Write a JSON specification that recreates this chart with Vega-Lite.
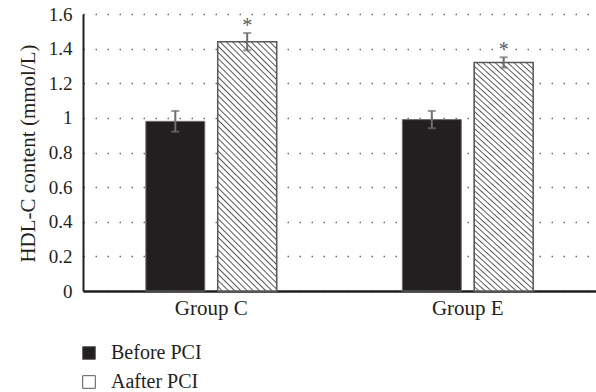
{
 "$schema": "https://vega.github.io/schema/vega-lite/v6.json",
 "width": 513, "height": 277,
 "autosize": "none",
 "padding": {"left": 83, "top": 14, "right": 0, "bottom": 101},
 "background": "white",
 "config": {
  "view": {"stroke": null},
  "font": "Liberation Serif",
  "axis": {"labelFont": "Liberation Serif", "titleFont": "Liberation Serif"},
  "axisY": {"labelFontSize": 19, "labelFont": "Liberation Serif", "labelColor": "#231f20", "labelPadding": 11, "ticks": false, "tickSize": 0, "domainColor": "#231f20", "domainWidth": 2, "gridColor": "#6d6e71", "gridDash": [1.5, 10.5], "gridWidth": 1.5, "titleFontSize": 21, "titleFontWeight": "normal", "titleColor": "#231f20"},
  "axisX": {"labelFontSize": 21, "labelFont": "Liberation Serif", "labelColor": "#231f20", "labelAngle": 0, "ticks": false, "tickSize": 0, "labelPadding": 23, "labelBaseline": "alphabetic", "domainColor": "#231f20", "domainWidth": 2.5, "grid": false},
  "legend": {"labelFontSize": 20, "labelFont": "Liberation Serif", "labelColor": "#231f20"}
 },
 "data": {"values": [
  {"group": "Group C", "phase": "Before PCI", "mean": 0.98, "lower": 0.92, "upper": 1.04, "sig": ""},
  {"group": "Group C", "phase": "Aafter PCI", "mean": 1.44, "lower": 1.39, "upper": 1.49, "sig": "*"},
  {"group": "Group E", "phase": "Before PCI", "mean": 0.99, "lower": 0.94, "upper": 1.04, "sig": ""},
  {"group": "Group E", "phase": "Aafter PCI", "mean": 1.32, "lower": 1.29, "upper": 1.35, "sig": "*"}
 ]},
 "encoding": {
  "x": {"field": "group", "type": "nominal", "scale": {"paddingInner": 0.49, "paddingOuter": 0.245},
   "axis": {"title": null}},
  "xOffset": {"field": "phase", "type": "nominal", "scale": {"domain": ["Before PCI", "Aafter PCI"], "paddingInner": 0.18, "paddingOuter": 0}}
 },
 "layer": [
  {"mark": {"type": "bar", "stroke": "#6d6e71", "strokeWidth": 1},
   "encoding": {
    "y": {"field": "mean", "type": "quantitative", "title": "HDL-C content (mmol/L)", "scale": {"domain": [0, 1.6], "nice": false},
     "axis": {"values": [0, 0.2, 0.4, 0.6, 0.8, 1, 1.2, 1.4, 1.6], "format": ".1~f", "labelOverlap": false, "labelFontSize": 19, "titleX": -49, "titleY": 139, "titleBaseline": "alphabetic"}},
    "color": {"field": "phase", "type": "nominal", "scale": {"domain": ["Before PCI", "Aafter PCI"], "range": ["#231f20", "#ffffff"]},
     "legend": {"title": null, "orient": "none", "legendX": -4, "legendY": 329, "direction": "vertical", "labelFontSize": 20, "symbolType": "square", "symbolSize": 160, "symbolStrokeColor": "#58595b", "symbolStrokeWidth": 1, "rowPadding": 9, "labelOffset": 12, "padding": 0}}
   }},
  {"transform": [{"filter": "datum.phase === 'Aafter PCI'"}],
   "mark": {"type": "bar", "stroke": "#58595b", "strokeWidth": 1.5,
    "fill": {"gradient": "linear", "x1": 0, "y1": 1, "x2": 0.275, "y2": -0.172, "stops": [
     {"offset": 0, "color": "#fff"}, {"offset": 0.011, "color": "#fff"}, {"offset": 0.0155, "color": "#555"},
     {"offset": 0.02, "color": "#fff"}, {"offset": 0.031, "color": "#fff"}, {"offset": 0.0355, "color": "#555"},
     {"offset": 0.04, "color": "#fff"}, {"offset": 0.051, "color": "#fff"}, {"offset": 0.0555, "color": "#555"},
     {"offset": 0.06, "color": "#fff"}, {"offset": 0.071, "color": "#fff"}, {"offset": 0.0755, "color": "#555"},
     {"offset": 0.08, "color": "#fff"}, {"offset": 0.091, "color": "#fff"}, {"offset": 0.0955, "color": "#555"},
     {"offset": 0.1, "color": "#fff"}, {"offset": 0.111, "color": "#fff"}, {"offset": 0.1155, "color": "#555"},
     {"offset": 0.12, "color": "#fff"}, {"offset": 0.131, "color": "#fff"}, {"offset": 0.1355, "color": "#555"},
     {"offset": 0.14, "color": "#fff"}, {"offset": 0.151, "color": "#fff"}, {"offset": 0.1555, "color": "#555"},
     {"offset": 0.16, "color": "#fff"}, {"offset": 0.171, "color": "#fff"}, {"offset": 0.1755, "color": "#555"},
     {"offset": 0.18, "color": "#fff"}, {"offset": 0.191, "color": "#fff"}, {"offset": 0.1955, "color": "#555"},
     {"offset": 0.2, "color": "#fff"}, {"offset": 0.211, "color": "#fff"}, {"offset": 0.2155, "color": "#555"},
     {"offset": 0.22, "color": "#fff"}, {"offset": 0.231, "color": "#fff"}, {"offset": 0.2355, "color": "#555"},
     {"offset": 0.24, "color": "#fff"}, {"offset": 0.251, "color": "#fff"}, {"offset": 0.2555, "color": "#555"},
     {"offset": 0.26, "color": "#fff"}, {"offset": 0.271, "color": "#fff"}, {"offset": 0.2755, "color": "#555"},
     {"offset": 0.28, "color": "#fff"}, {"offset": 0.291, "color": "#fff"}, {"offset": 0.2955, "color": "#555"},
     {"offset": 0.3, "color": "#fff"}, {"offset": 0.311, "color": "#fff"}, {"offset": 0.3155, "color": "#555"},
     {"offset": 0.32, "color": "#fff"}, {"offset": 0.331, "color": "#fff"}, {"offset": 0.3355, "color": "#555"},
     {"offset": 0.34, "color": "#fff"}, {"offset": 0.351, "color": "#fff"}, {"offset": 0.3555, "color": "#555"},
     {"offset": 0.36, "color": "#fff"}, {"offset": 0.371, "color": "#fff"}, {"offset": 0.3755, "color": "#555"},
     {"offset": 0.38, "color": "#fff"}, {"offset": 0.391, "color": "#fff"}, {"offset": 0.3955, "color": "#555"},
     {"offset": 0.4, "color": "#fff"}, {"offset": 0.411, "color": "#fff"}, {"offset": 0.4155, "color": "#555"},
     {"offset": 0.42, "color": "#fff"}, {"offset": 0.431, "color": "#fff"}, {"offset": 0.4355, "color": "#555"},
     {"offset": 0.44, "color": "#fff"}, {"offset": 0.451, "color": "#fff"}, {"offset": 0.4555, "color": "#555"},
     {"offset": 0.46, "color": "#fff"}, {"offset": 0.471, "color": "#fff"}, {"offset": 0.4755, "color": "#555"},
     {"offset": 0.48, "color": "#fff"}, {"offset": 0.491, "color": "#fff"}, {"offset": 0.4955, "color": "#555"},
     {"offset": 0.5, "color": "#fff"}, {"offset": 0.511, "color": "#fff"}, {"offset": 0.5155, "color": "#555"},
     {"offset": 0.52, "color": "#fff"}, {"offset": 0.531, "color": "#fff"}, {"offset": 0.5355, "color": "#555"},
     {"offset": 0.54, "color": "#fff"}, {"offset": 0.551, "color": "#fff"}, {"offset": 0.5555, "color": "#555"},
     {"offset": 0.56, "color": "#fff"}, {"offset": 0.571, "color": "#fff"}, {"offset": 0.5755, "color": "#555"},
     {"offset": 0.58, "color": "#fff"}, {"offset": 0.591, "color": "#fff"}, {"offset": 0.5955, "color": "#555"},
     {"offset": 0.6, "color": "#fff"}, {"offset": 0.611, "color": "#fff"}, {"offset": 0.6155, "color": "#555"},
     {"offset": 0.62, "color": "#fff"}, {"offset": 0.631, "color": "#fff"}, {"offset": 0.6355, "color": "#555"},
     {"offset": 0.64, "color": "#fff"}, {"offset": 0.651, "color": "#fff"}, {"offset": 0.6555, "color": "#555"},
     {"offset": 0.66, "color": "#fff"}, {"offset": 0.671, "color": "#fff"}, {"offset": 0.6755, "color": "#555"},
     {"offset": 0.68, "color": "#fff"}, {"offset": 0.691, "color": "#fff"}, {"offset": 0.6955, "color": "#555"},
     {"offset": 0.7, "color": "#fff"}, {"offset": 0.711, "color": "#fff"}, {"offset": 0.7155, "color": "#555"},
     {"offset": 0.72, "color": "#fff"}, {"offset": 0.731, "color": "#fff"}, {"offset": 0.7355, "color": "#555"},
     {"offset": 0.74, "color": "#fff"}, {"offset": 0.751, "color": "#fff"}, {"offset": 0.7555, "color": "#555"},
     {"offset": 0.76, "color": "#fff"}, {"offset": 0.771, "color": "#fff"}, {"offset": 0.7755, "color": "#555"},
     {"offset": 0.78, "color": "#fff"}, {"offset": 0.791, "color": "#fff"}, {"offset": 0.7955, "color": "#555"},
     {"offset": 0.8, "color": "#fff"}, {"offset": 0.811, "color": "#fff"}, {"offset": 0.8155, "color": "#555"},
     {"offset": 0.82, "color": "#fff"}, {"offset": 0.831, "color": "#fff"}, {"offset": 0.8355, "color": "#555"},
     {"offset": 0.84, "color": "#fff"}, {"offset": 0.851, "color": "#fff"}, {"offset": 0.8555, "color": "#555"},
     {"offset": 0.86, "color": "#fff"}, {"offset": 0.871, "color": "#fff"}, {"offset": 0.8755, "color": "#555"},
     {"offset": 0.88, "color": "#fff"}, {"offset": 0.891, "color": "#fff"}, {"offset": 0.8955, "color": "#555"},
     {"offset": 0.9, "color": "#fff"}, {"offset": 0.911, "color": "#fff"}, {"offset": 0.9155, "color": "#555"},
     {"offset": 0.92, "color": "#fff"}, {"offset": 0.931, "color": "#fff"}, {"offset": 0.9355, "color": "#555"},
     {"offset": 0.94, "color": "#fff"}, {"offset": 0.951, "color": "#fff"}, {"offset": 0.9555, "color": "#555"},
     {"offset": 0.96, "color": "#fff"}, {"offset": 0.971, "color": "#fff"}, {"offset": 0.9755, "color": "#555"},
     {"offset": 0.98, "color": "#fff"}, {"offset": 0.991, "color": "#fff"}, {"offset": 0.9955, "color": "#555"},
     {"offset": 1, "color": "#fff"}
    ]}},
   "encoding": {"y": {"field": "mean", "type": "quantitative", "title": "HDL-C content (mmol/L)",
     "axis": {"values": [0, 0.2, 0.4, 0.6, 0.8, 1, 1.2, 1.4, 1.6], "format": ".1~f", "labelOverlap": false, "labelFontSize": 19, "titleX": -49, "titleY": 139, "titleBaseline": "alphabetic"}}}},
  {"mark": {"type": "rule", "color": "#6d6e71", "strokeWidth": 2},
   "encoding": {"y": {"field": "lower", "type": "quantitative", "title": "HDL-C content (mmol/L)",
     "axis": {"values": [0, 0.2, 0.4, 0.6, 0.8, 1, 1.2, 1.4, 1.6], "format": ".1~f", "labelOverlap": false, "labelFontSize": 19, "titleX": -49, "titleY": 139, "titleBaseline": "alphabetic"}}, "y2": {"field": "upper"}}},
  {"mark": {"type": "tick", "color": "#6d6e71", "thickness": 2, "size": 8, "orient": "horizontal"},
   "encoding": {"y": {"field": "upper", "type": "quantitative", "title": "HDL-C content (mmol/L)",
     "axis": {"values": [0, 0.2, 0.4, 0.6, 0.8, 1, 1.2, 1.4, 1.6], "format": ".1~f", "labelOverlap": false, "labelFontSize": 19, "titleX": -49, "titleY": 139, "titleBaseline": "alphabetic"}}}},
  {"mark": {"type": "tick", "color": "#6d6e71", "thickness": 2, "size": 8, "orient": "horizontal"},
   "encoding": {"y": {"field": "lower", "type": "quantitative", "title": "HDL-C content (mmol/L)",
     "axis": {"values": [0, 0.2, 0.4, 0.6, 0.8, 1, 1.2, 1.4, 1.6], "format": ".1~f", "labelOverlap": false, "labelFontSize": 19, "titleX": -49, "titleY": 139, "titleBaseline": "alphabetic"}}}},
  {"mark": {"type": "text", "fontSize": 20, "color": "#58595b", "baseline": "alphabetic", "dy": -1},
   "encoding": {"y": {"field": "upper", "type": "quantitative", "title": "HDL-C content (mmol/L)",
     "axis": {"values": [0, 0.2, 0.4, 0.6, 0.8, 1, 1.2, 1.4, 1.6], "format": ".1~f", "labelOverlap": false, "labelFontSize": 19, "titleX": -49, "titleY": 139, "titleBaseline": "alphabetic"}}, "text": {"field": "sig"}}}
 ]
}
